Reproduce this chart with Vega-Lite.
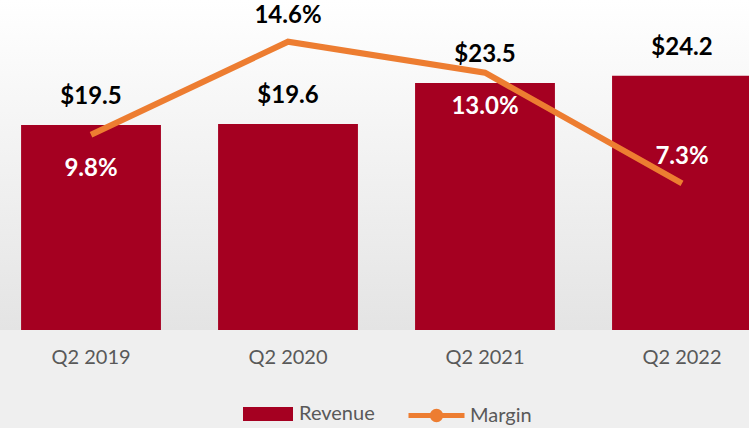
{
  "$schema": "https://vega.github.io/schema/vega-lite/v6.json",
  "width": 773,
  "height": 330,
  "padding": {"left": 0, "top": 0, "right": 0, "bottom": 98},
  "autosize": {"type": "none"},
  "background": "#efefef",
  "config": {
    "view": {"stroke": null, "fill": {"gradient": "linear", "x1": 0, "y1": 0, "x2": 0, "y2": 1, "stops": [{"offset": 0, "color": "#ffffff"}, {"offset": 1, "color": "#e4e4e4"}]}},
    "font": "Lato"
  },
  "data": {"values": [
    {"quarter": "Q2 2019", "revenue": 19.5, "margin": 9.8, "revLabel": "$19.5", "marLabel": "9.8%", "side": "below", "series1": "Revenue", "series2": "Margin"},
    {"quarter": "Q2 2020", "revenue": 19.6, "margin": 14.6, "revLabel": "$19.6", "marLabel": "14.6%", "side": "above", "series1": "Revenue", "series2": "Margin"},
    {"quarter": "Q2 2021", "revenue": 23.5, "margin": 13.0, "revLabel": "$23.5", "marLabel": "13.0%", "side": "below", "series1": "Revenue", "series2": "Margin"},
    {"quarter": "Q2 2022", "revenue": 24.2, "margin": 7.3, "revLabel": "$24.2", "marLabel": "7.3%", "side": "above", "series1": "Revenue", "series2": "Margin"}
  ]},
  "encoding": {
    "x": {"field": "quarter", "type": "nominal", "sort": null,
      "scale": {"paddingInner": 0.29, "paddingOuter": 0.107},
      "axis": {"title": null, "domain": false, "ticks": false, "labelAngle": 0, "labelPadding": 17, "labelFontSize": 20, "labelColor": "#595959", "labelFont": "Lato"}}
  },
  "layer": [
    {
      "layer": [
        {
          "mark": {"type": "bar", "color": "#a50021"},
          "encoding": {
            "y": {"field": "revenue", "type": "quantitative", "scale": {"domain": [0, 31.4]}, "axis": null},
            "fill": {"field": "series1", "type": "nominal", "scale": {"range": ["#a50021"]},
              "legend": {"title": null, "orient": "none", "legendX": 243, "legendY": 389, "symbolType": "M-1,-0.28H1V0.28H-1Z", "symbolSize": 2500, "symbolStrokeWidth": 0, "labelFontSize": 20, "labelColor": "#595959", "labelFont": "Lato", "labelOffset": 6, "padding": 0}}
          }
        },
        {
          "mark": {"type": "text", "fontSize": 24, "fontWeight": "bold", "color": "#000000", "dy": -28, "baseline": "middle", "font": "Lato"},
          "encoding": {
            "y": {"field": "revenue", "type": "quantitative", "scale": {"domain": [0, 31.4]}, "axis": null},
            "text": {"field": "revLabel"}
          }
        }
      ]
    },
    {
      "layer": [
        {
          "mark": {"type": "line", "strokeWidth": 6, "color": "#ed7d31"},
          "encoding": {
            "y": {"field": "margin", "type": "quantitative", "scale": {"domain": [-0.26, 16.75]}, "axis": null},
            "stroke": {"field": "series2", "type": "nominal", "scale": {"range": ["#ed7d31"]},
              "legend": {"title": null, "orient": "none", "legendX": 406, "legendY": 385, "symbolType": "M-1,0H1M0.15,0A0.15,0.15 0 1,1 -0.15,0A0.15,0.15 0 1,1 0.15,0Z", "symbolSize": 3136, "symbolStrokeWidth": 5, "symbolFillColor": "#ed7d31", "labelFontSize": 20, "labelColor": "#595959", "labelFont": "Lato", "labelOffset": 3, "padding": 0}}
          }
        },
        {
          "transform": [{"filter": "datum.side === 'above'"}],
          "mark": {"type": "text", "fontSize": 24, "fontWeight": "bold", "dy": -26, "baseline": "middle", "font": "Lato"},
          "encoding": {
            "y": {"field": "margin", "type": "quantitative", "scale": {"domain": [-0.26, 16.75]}, "axis": null},
            "text": {"field": "marLabel"},
            "color": {"condition": {"test": "datum.quarter === 'Q2 2022'", "value": "#ffffff"}, "value": "#000000"}
          }
        },
        {
          "transform": [{"filter": "datum.side === 'below'"}],
          "mark": {"type": "text", "fontSize": 24, "fontWeight": "bold", "dy": 34, "baseline": "middle", "color": "#ffffff", "font": "Lato"},
          "encoding": {
            "y": {"field": "margin", "type": "quantitative", "scale": {"domain": [-0.26, 16.75]}, "axis": null},
            "text": {"field": "marLabel"}
          }
        }
      ],
      "resolve": {"scale": {"y": "shared"}}
    }
  ],
  "resolve": {"scale": {"y": "independent", "fill": "independent", "stroke": "independent"}}
}
